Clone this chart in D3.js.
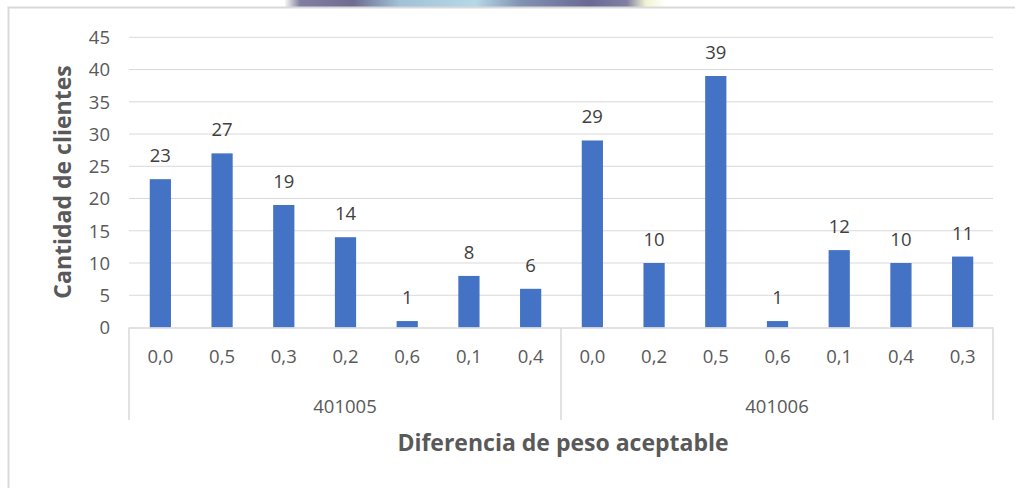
<!DOCTYPE html>
<html><head><meta charset="utf-8">
<script src="https://cdn.jsdelivr.net/npm/d3@7"></script>
<style>html,body{margin:0;padding:0;background:#fff;}svg{display:block;}</style>
</head><body>
<svg id="c" width="1015" height="488"></svg>
<script>
const groups = ["401005", "401006"];
const categories = [
  ["0,0","0,5","0,3","0,2","0,6","0,1","0,4"],
  ["0,0","0,2","0,5","0,6","0,1","0,4","0,3"]
];
const values = [
  [23, 27, 19, 14, 1, 8, 6],
  [29, 10, 39, 1, 12, 10, 11]
];
const yTicks = [0,5,10,15,20,25,30,35,40,45];
const yTitle = "Cantidad de clientes";
const xTitle = "Diferencia de peso aceptable";

const rows = [];
groups.forEach((g,gi)=>categories[gi].forEach((c,ci)=>rows.push({g, c, v: values[gi][ci], key: g+"|"+c+"|"+ci})));

const svg = d3.select("#c");
const font = "'Open Sans', 'Noto Sans', sans-serif";
const L = 129, R = 993, T = 37.3, B = 327.5;

// watermark fragment above the frame
const defs = svg.append("defs");
const grad = defs.append("linearGradient").attr("id","wm").attr("x1","0").attr("x2","1");
[[0,"#f6f6ee"],[0.04,"#6a6890"],[0.18,"#54527e"],[0.3,"#8fb6cf"],[0.5,"#a9d2e2"],[0.62,"#6b7fa5"],[0.8,"#4f4e80"],[0.9,"#6b6a92"],[0.95,"#eef2c8"],[1,"#ffffff"]]
  .forEach(([o,c])=>grad.append("stop").attr("offset",o).attr("stop-color",c));
svg.append("rect").attr("x",285).attr("y",0).attr("width",380).attr("height",7).attr("fill","url(#wm)").attr("opacity",0.85);

// outer frame
svg.append("path").attr("d","M8.5,488 L8.5,7.5 L1015,7.5").attr("fill","none").attr("stroke","#d9d9d9").attr("stroke-width",2);

const x = d3.scaleBand().domain(rows.map(d=>d.key)).range([L,R]).paddingInner(0.64).paddingOuter(0.32);
const y = d3.scaleLinear().domain([0,45]).range([B,T]);

// gridlines
svg.append("g").selectAll("line").data(yTicks.filter(t=>t>0)).join("line")
  .attr("x1",L).attr("x2",R).attr("y1",d=>y(d)).attr("y2",d=>y(d))
  .attr("stroke","#d9d9d9").attr("stroke-width",1);

// y axis labels
const yAxis = d3.axisLeft(y).tickValues(yTicks).tickSize(0).tickPadding(0);
const ya = svg.append("g").attr("transform",`translate(${L-19},0)`).call(yAxis);
ya.select(".domain").remove();
ya.selectAll("text").attr("font-family",font).attr("font-size",18.5).attr("fill","#595959").attr("dy","0.34em");

// bars
svg.append("g").selectAll("rect").data(rows).join("rect")
  .attr("x",d=>x(d.key)+1).attr("width",x.bandwidth()-1)
  .attr("y",d=>y(d.v)).attr("height",d=>y(0)-y(d.v))
  .attr("fill","#4472C4");

// data labels
svg.append("g").selectAll("text").data(rows).join("text")
  .attr("x",d=>x(d.key)+x.bandwidth()/2+0.5).attr("y",d=>y(d.v)-17)
  .attr("text-anchor","middle").attr("font-family",font).attr("font-size",18.5).attr("fill","#404040")
  .text(d=>d.v);

// category axis
const ax = svg.append("g");
ax.append("line").attr("x1",L).attr("x2",R).attr("y1",B+0.5).attr("y2",B+0.5).attr("stroke","#d9d9d9").attr("stroke-width",1.5);
const gx = d3.scaleBand().domain(groups).range([L,R]);
const seps = [L].concat(groups.map(g=>gx(g)+gx.bandwidth()));
ax.selectAll("line.sep").data(seps).join("line").attr("class","sep")
  .attr("x1",d=>d).attr("x2",d=>d).attr("y1",B).attr("y2",420)
  .attr("stroke","#d9d9d9").attr("stroke-width",1.5);
ax.selectAll("text.cat").data(rows).join("text").attr("class","cat")
  .attr("x",d=>x(d.key)+x.bandwidth()/2+0.5).attr("y",363)
  .attr("text-anchor","middle").attr("font-family",font).attr("font-size",18.5).attr("fill","#595959")
  .text(d=>d.c);
ax.selectAll("text.grp").data(groups).join("text").attr("class","grp")
  .attr("x",d=>gx(d)+gx.bandwidth()/2).attr("y",413)
  .attr("text-anchor","middle").attr("font-family",font).attr("font-size",18.5).attr("fill","#595959")
  .text(d=>d);

// titles
svg.append("text").attr("x",563).attr("y",451).attr("text-anchor","middle")
  .attr("font-family",font).attr("font-size",23).attr("font-weight","bold").attr("fill","#595959").text(xTitle);
svg.append("text").attr("transform","translate(71,182) rotate(-90)").attr("text-anchor","middle")
  .attr("font-family",font).attr("font-size",23).attr("font-weight","bold").attr("fill","#595959").text(yTitle);
</script>
</body></html>
